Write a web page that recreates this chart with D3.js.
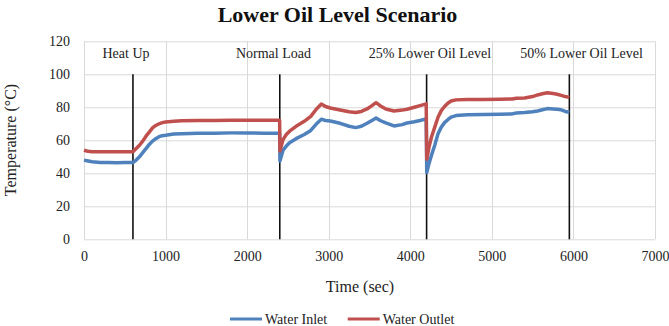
<!DOCTYPE html>
<html>
<head>
<meta charset="utf-8">
<script src="https://cdn.jsdelivr.net/npm/d3@7"></script>
<style>
  body { margin: 0; background: #fff; }
  svg { display: block; }
  svg text { font-family: "Liberation Serif", "Times New Roman", serif; }
</style>
</head>
<body>
<script>
const times = [0, 50, 100, 200, 300, 400, 500, 600, 640, 680, 720, 760, 800, 840, 880, 920, 960, 1000,
  1100, 1200, 1400, 1600, 1800, 2000, 2200, 2398, 2402, 2440, 2480, 2520, 2600, 2700, 2780, 2850, 2910,
  2960, 3020, 3140, 3250, 3330, 3400, 3470, 3530, 3580, 3630, 3700, 3800, 3900, 3960, 4050, 4120, 4195,
  4202, 4230, 4260, 4300, 4340, 4380, 4420, 4460, 4500, 4560, 4700, 4900, 5100, 5250, 5300, 5400, 5500,
  5560, 5620, 5680, 5750, 5800, 5850, 5900, 5950];

const waterInlet = [48, 47.5, 47, 46.5, 46.5, 46.4, 46.5, 46.5, 48, 50, 52.5, 55, 57.5, 59.5, 61, 62.2, 62.8, 63,
  63.8, 64, 64.2, 64.3, 64.5, 64.5, 64.3, 64.2, 47.5, 54, 56.5, 58.5, 61, 63.5, 66, 70, 72.8,
  72, 71.7, 70.3, 68.5, 67.7, 68.5, 70.3, 72, 73.5, 72, 70.5, 68.7, 69.5, 70.5, 71.2, 72, 73,
  40.5, 46, 51, 57, 64, 68, 70.7, 72.5, 74, 75, 75.5, 75.7, 75.8, 76, 76.5, 76.8, 77.3,
  77.8, 78.5, 79.2, 79, 78.8, 78.5, 77.5, 77];

const waterOutlet = [54, 53.3, 53, 53, 53, 53, 53, 53, 55, 57, 59.5, 62.5, 65, 67.5, 69, 70, 70.7, 71.1,
  71.5, 71.8, 72, 72, 72.1, 72.1, 72.1, 72.1, 53.5, 60.4, 63.5, 65.5, 68.5, 71.5, 74.5, 79, 82,
  80.5, 79.6, 78.4, 77.3, 76.8, 77.5, 79, 81, 82.8, 81, 79, 77.8, 78.3, 78.8, 80, 81, 82.1,
  48.5, 56, 62, 68, 74, 78, 80.5, 82.5, 83.8, 84.5, 84.8, 84.8, 84.9, 85, 85.5, 85.6, 86.5,
  87.5, 88.2, 88.8, 88.3, 87.9, 87.2, 86.5, 86];

const seriesNames = ["Water Inlet", "Water Outlet"];
const phaseTimes = [600, 2400, 4200, 5950];
const phaseLabels = ["Heat Up", "Normal Load", "25% Lower Oil Level", "50% Lower Oil Level"];
const phaseLabelTimes = [515, 2322, 4240, 6100];
const xTicks = [0, 1000, 2000, 3000, 4000, 5000, 6000, 7000];
const yTicks = [0, 20, 40, 60, 80, 100, 120];

const W = 669, H = 326;
const margin = { top: 41.3, right: 14, bottom: 86.7, left: 84 };
const w = W - margin.left - margin.right,
  h = H - margin.top - margin.bottom;
const serif = "'Liberation Serif', 'Times New Roman', serif";

const svg = d3.select("body").append("svg")
  .attr("width", W)
  .attr("height", H);

const x = d3.scaleLinear().domain([0, 7000]).range([0, w]);
const y = d3.scaleLinear().domain([0, 120]).range([h, 0]);

const g = svg.append("g")
  .attr("transform", "translate(" + margin.left + "," + margin.top + ")");

// gridlines
g.append("g").selectAll("line")
  .data(yTicks)
  .enter().append("line")
  .attr("x1", 0).attr("x2", w)
  .attr("y1", d => Math.round(y(d)) + 0.5).attr("y2", d => Math.round(y(d)) + 0.5)
  .attr("stroke", "#d9d9d9");

g.append("g").selectAll("line")
  .data(xTicks)
  .enter().append("line")
  .attr("y1", 0).attr("y2", h)
  .attr("x1", d => Math.round(x(d)) + 0.5).attr("x2", d => Math.round(x(d)) + 0.5)
  .attr("stroke", "#d9d9d9");

// axes (labels only)
const xAxis = g.append("g")
  .attr("transform", "translate(0," + h + ")")
  .call(d3.axisBottom(x).tickValues(xTicks).tickSize(0).tickPadding(12).tickFormat(d3.format("d")));
const yAxis = g.append("g")
  .call(d3.axisLeft(y).tickValues(yTicks).tickSize(0).tickPadding(14));
[xAxis, yAxis].forEach(a => {
  a.attr("font-family", serif).attr("font-size", 14);
  a.select(".domain").remove();
  a.selectAll("text").attr("fill", "#222");
});

// phase lines
g.append("g").selectAll("line")
  .data(phaseTimes)
  .enter().append("line")
  .attr("x1", d => x(d)).attr("x2", d => x(d))
  .attr("y1", y(100)).attr("y2", h)
  .attr("stroke", "#111")
  .attr("stroke-width", 1.6);

g.append("g").selectAll("text")
  .data(phaseLabels)
  .enter().append("text")
  .attr("x", (d, i) => x(phaseLabelTimes[i]))
  .attr("y", 17)
  .attr("text-anchor", "middle")
  .attr("font-family", serif)
  .attr("font-size", 14)
  .attr("fill", "#222")
  .text(d => d);

// series
const colors = ["#4f81bd", "#c0504d"];
const seriesData = [waterInlet, waterOutlet];
const line = d3.line()
  .x((d, i) => x(times[i]))
  .y(d => y(d));

g.append("g").selectAll("path")
  .data(seriesData)
  .enter().append("path")
  .attr("d", line)
  .attr("fill", "none")
  .attr("stroke", (d, i) => colors[i])
  .attr("stroke-width", 3.5)
  .attr("stroke-linejoin", "round");

// titles
svg.append("text")
  .attr("x", 337.5).attr("y", 22)
  .attr("text-anchor", "middle")
  .attr("font-family", serif)
  .attr("font-size", 22)
  .attr("font-weight", "bold")
  .attr("fill", "#111")
  .text("Lower Oil Level Scenario");

svg.append("text")
  .attr("x", 360).attr("y", 292)
  .attr("text-anchor", "middle")
  .attr("font-family", serif)
  .attr("font-size", 16)
  .attr("fill", "#222")
  .text("Time (sec)");

svg.append("text")
  .attr("transform", "translate(16,140) rotate(-90)")
  .attr("text-anchor", "middle")
  .attr("font-family", serif)
  .attr("font-size", 16)
  .attr("fill", "#222")
  .text("Temperature (°C)");

// legend
const legendX = [230, 347.7];
const legend = svg.append("g").selectAll("g")
  .data(seriesNames)
  .enter().append("g")
  .attr("transform", (d, i) => "translate(" + legendX[i] + ",319)");
legend.append("line")
  .attr("x1", 0).attr("x2", 32)
  .attr("stroke", (d, i) => colors[i])
  .attr("stroke-width", 3);
legend.append("text")
  .attr("x", 35).attr("y", 4.5)
  .attr("font-family", serif)
  .attr("font-size", 14)
  .attr("fill", "#222")
  .text(d => d);
</script>
</body>
</html>
